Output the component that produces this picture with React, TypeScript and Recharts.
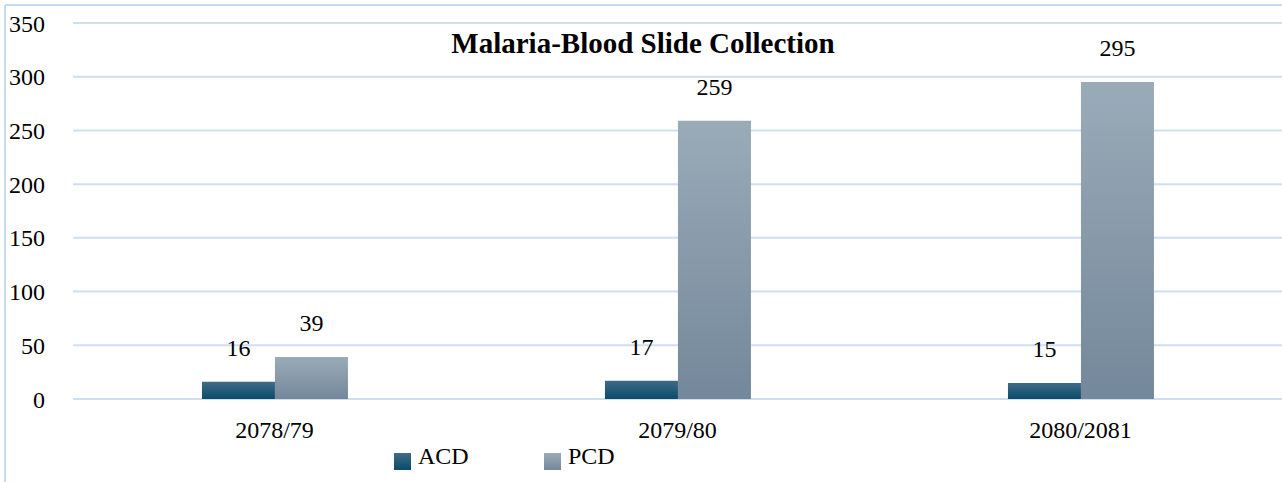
import React from "react";
import { BarChart, Bar, XAxis, YAxis, CartesianGrid, LabelList, Legend } from "recharts";

const categories = ["2078/79", "2079/80", "2080/2081"];
const acdValues = [16, 17, 15];
const pcdValues = [39, 259, 295];
const yTicks = [0, 50, 100, 150, 200, 250, 300, 350];

const data = categories.map((c, i) => ({ name: c, ACD: acdValues[i], PCD: pcdValues[i] }));

const FONT = "'Liberation Serif', 'Times New Roman', serif";

const renderLegend = (props: any) => {
  const { payload } = props;
  const xs = [0, 150];
  return (
    <div style={{ position: "relative", height: 30, fontFamily: FONT }}>
      {payload.map((p: any, i: number) => (
        <div key={p.value} style={{ position: "absolute", left: xs[i], top: 0, display: "flex", alignItems: "flex-end" }}>
          <svg width={17} height={17} style={{ marginRight: 7, marginBottom: -2 }}>
            <rect width={17} height={17} fill={`url(#leg${p.value})`} />
          </svg>
          <span style={{ fontSize: 24, lineHeight: "24px", color: "#000" }}>{p.value}</span>
        </div>
      ))}
    </div>
  );
};

export default function App() {
  return (
    <div style={{ position: "absolute", left: 0, top: 0, width: 1282, height: 482, background: "#fff" }}>
      <svg width={0} height={0} style={{ position: "absolute" }}>
        <defs>
          <linearGradient id="legACD" x1="0" y1="0" x2="0" y2="1">
            <stop offset="0%" stopColor="#3f6b86" />
            <stop offset="100%" stopColor="#0a4b6c" />
          </linearGradient>
          <linearGradient id="legPCD" x1="0" y1="0" x2="0" y2="1">
            <stop offset="0%" stopColor="#9aabb8" />
            <stop offset="100%" stopColor="#74889b" />
          </linearGradient>
        </defs>
      </svg>
      <BarChart
        width={1282}
        height={482}
        data={data}
        margin={{ top: 23, right: 0, bottom: 53, left: 0 }}
        barCategoryGap="32%"
        barGap={0}
      >
        <defs>
          <linearGradient id="gACD" x1="0" y1="0" x2="0" y2="1">
            <stop offset="0%" stopColor="#3f6b86" />
            <stop offset="100%" stopColor="#0a4b6c" />
          </linearGradient>
          <linearGradient id="gPCD" x1="0" y1="0" x2="0" y2="1">
            <stop offset="0%" stopColor="#9aabb8" />
            <stop offset="100%" stopColor="#74889b" />
          </linearGradient>
        </defs>
        <CartesianGrid vertical={false} stroke="#cfdff2" strokeWidth={2} />
        <XAxis
          dataKey="name"
          height={30}
          axisLine={false}
          tickLine={false}
          tickSize={6}
          tickMargin={16}
          tick={{ fill: "#000", fontSize: 24, fontFamily: FONT }}
        />
        <YAxis
          width={73}
          domain={[0, 350]}
          ticks={yTicks}
          axisLine={false}
          tickLine={false}
          tickSize={6}
          tickMargin={22}
          tick={{ fill: "#000", fontSize: 24, fontFamily: FONT }}
        />
        <Legend
          layout="vertical"
          align="center"
          verticalAlign="middle"
          content={renderLegend}
          wrapperStyle={{ position: "absolute", left: 394, top: 444, width: 400, height: 30 }}
        />
        <Bar dataKey="ACD" fill="url(#gACD)" isAnimationActive={false}>
          <LabelList dataKey="ACD" position="top" offset={26} fill="#000" fontSize={24} fontFamily={FONT} />
        </Bar>
        <Bar dataKey="PCD" fill="url(#gPCD)" isAnimationActive={false}>
          <LabelList dataKey="PCD" position="top" offset={26} fill="#000" fontSize={24} fontFamily={FONT} />
        </Bar>
      </BarChart>
      <svg width={1282} height={482} style={{ position: "absolute", left: 0, top: 0, pointerEvents: "none" }}>
        <line x1={5} y1={5} x2={1282} y2={5} stroke="#c6daf0" strokeWidth={2} />
        <line x1={5} y1={5} x2={5} y2={482} stroke="#c6daf0" strokeWidth={2} />
        <text x={643} y={53} textAnchor="middle" fontFamily={FONT} fontWeight="bold" fontSize={29} fill="#000">
          Malaria-Blood Slide Collection
        </text>
      </svg>
    </div>
  );
}
